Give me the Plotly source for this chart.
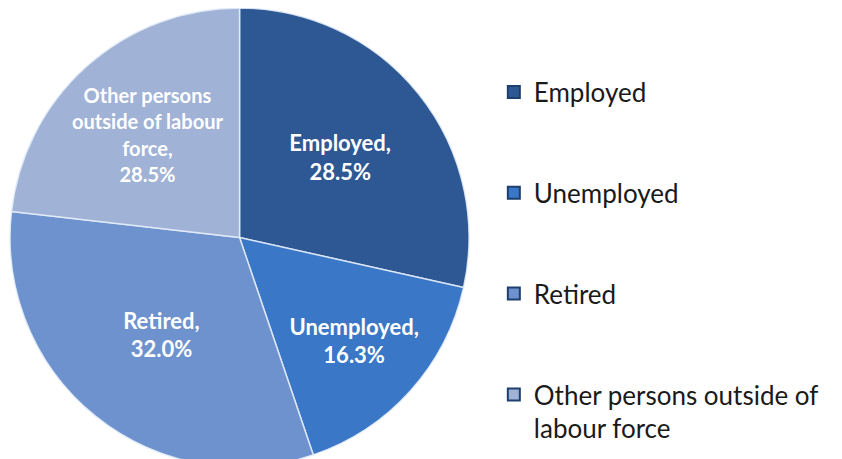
import plotly.graph_objects as go

categories = ["Employed", "Unemployed", "Retired", "Other persons outside of labour force"]
legend_labels = ["Employed", "Unemployed", "Retired", "Other persons outside of<br>labour force"]
slice_text = ["Employed,<br>28.5%", "Unemployed,<br>16.3%", "Retired,<br>32.0%",
              "Other persons<br>outside of labour<br>force,<br>28.5%"]
values = [28.5, 16.3, 32.0, 23.2]
colors = ["#2d5894", "#3a77c6", "#6e92cd", "#a0b2d6"]

fig = go.Figure()
fig.add_trace(go.Pie(
    labels=categories, values=values, sort=False, direction="clockwise", rotation=0,
    customdata=slice_text, texttemplate="%{customdata}", textposition="inside",
    insidetextorientation="horizontal",
    textfont=dict(family="Lato", size=22, color="white", weight="bold"),
    marker=dict(colors=colors, line=dict(color="rgba(230,238,250,0.85)", width=1.5)),
    domain=dict(x=[0.0, 0.55], y=[0.0, 1.0]),
    showlegend=False, hoverinfo="label+percent",
))
for name, lab, col in zip(categories, legend_labels, colors):
    fig.add_trace(go.Scatter(
        x=[None], y=[None], mode="markers", name=lab, legendgroup=name,
        marker=dict(symbol="square", size=12, color=col, line=dict(color="#1d3f6e", width=1)),
    ))

fig.update_layout(
    width=842, height=459, margin=dict(l=0, r=0, t=0, b=0),
    paper_bgcolor="white", plot_bgcolor="white",
    xaxis=dict(visible=False), yaxis=dict(visible=False),
    legend=dict(x=0.577, y=0.868, xanchor="left", yanchor="top",
                font=dict(family="Lato", size=26, color="#1a1a1a"),
                tracegroupgap=64, valign="top", itemsizing="constant"),
)
fig.write_html("out.html")
